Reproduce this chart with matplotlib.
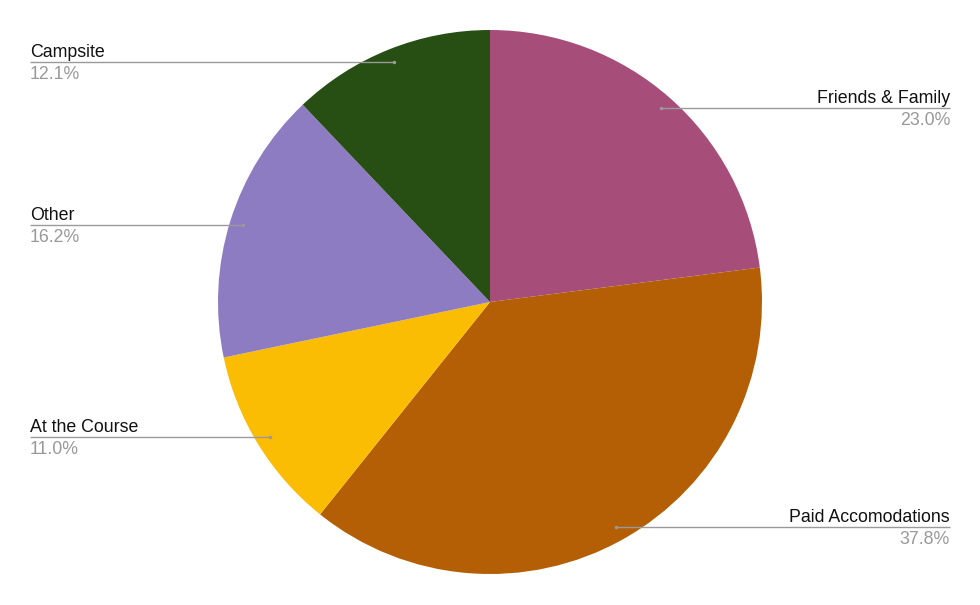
import numpy as np
import matplotlib
matplotlib.use("Agg")
import matplotlib.pyplot as plt

labels = ["Friends & Family", "Paid Accomodations", "At the Course", "Other", "Campsite"]
values = [23.0, 37.8, 11.0, 16.2, 12.1]
colors = ["#A64D79", "#B45F06", "#FBBC04", "#8E7CC3", "#274E13"]

W, H = 980, 605
fig = plt.figure(figsize=(W / 100, H / 100), dpi=100)
ax = fig.add_axes([0, 0, 1, 1])
ax.set_xlim(0, W)
ax.set_ylim(0, H)
ax.set_aspect("equal")
ax.axis("off")

cx, cy, R = 490, H - 302, 272
ax.pie(values, colors=colors, startangle=90, counterclock=False,
       center=(cx, cy), radius=R, wedgeprops=dict(linewidth=0))
ax.set_xlim(0, W)
ax.set_ylim(0, H)
ax.axis("off")

total = sum(values)
cum = 0.0
for lab, v in zip(labels, values):
    mid = (cum + v / 2) / total * 2 * np.pi  # clockwise from top
    cum += v
    dx = cx + 0.95 * R * np.sin(mid)
    dy = cy + 0.95 * R * np.cos(mid)
    if dx >= cx:
        tx, ha = 950, "right"
    else:
        tx, ha = 30, "left"
    ax.plot([tx, dx], [dy, dy], color="#9a9a9a", lw=1.0, solid_capstyle="butt", zorder=3)
    ax.plot([dx], [dy], "o", color="#9a9a9a", ms=2.5, mec="none", zorder=4)
    ax.text(tx, dy + 5, lab, ha=ha, va="baseline", fontsize=12.8,
            family="Liberation Sans", color="#111111")
    ax.text(tx, dy - 4, f"{v:.1f}%", ha=ha, va="top", fontsize=12.8,
            family="Liberation Sans", color="#999999")

fig.savefig("out.png", dpi=100)
